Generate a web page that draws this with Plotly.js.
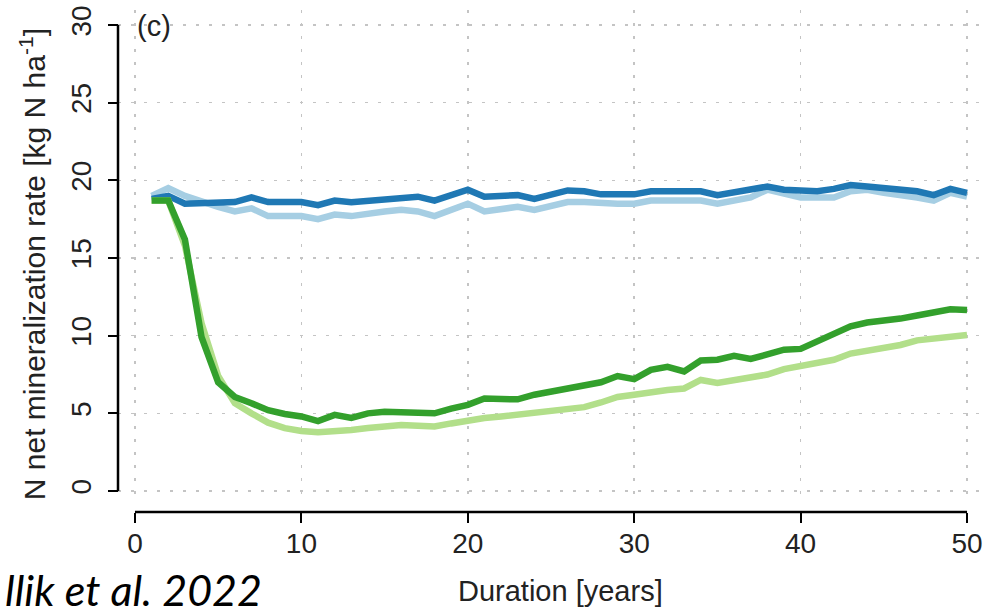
<!DOCTYPE html>
<html>
<head>
<meta charset="utf-8">
<script src="https://cdn.plot.ly/plotly-3.0.1.min.js"></script>
<style>
html,body{margin:0;padding:0;background:#fff;}
#chart{width:989px;height:607px;}
</style>
</head>
<body>
<div id="chart"></div>
<script>
// Duration [years]
const years = [1,2,3,4,5,6,7,8,9,10,11,12,13,14,15,16,17,18,19,20,21,22,23,24,25,26,27,28,29,30,31,32,33,34,35,36,37,38,39,40,41,42,43,44,45,46,47,48,49,50];

// N net mineralization rate [kg N ha-1]
const darkBlue = [18.8,19.0,18.5,18.5,18.5,18.6,18.9,18.6,18.6,18.6,18.4,18.7,18.6,18.7,18.8,18.9,18.95,18.7,19.0,19.4,18.95,19.0,19.05,18.8,19.1,19.35,19.3,19.1,19.1,19.1,19.3,19.3,19.2,19.3,19.05,19.2,19.4,19.6,19.4,19.3,19.3,19.45,19.7,19.6,19.5,19.4,19.3,19.05,19.45,19.2];
const lightBlue = [19.0,19.5,19.0,18.6,18.3,18.0,18.2,17.7,17.7,17.7,17.5,17.8,17.7,17.9,18.0,18.1,18.0,17.7,18.1,18.5,18.0,18.2,18.3,18.1,18.4,18.6,18.6,18.5,18.5,18.5,18.7,18.7,18.7,18.7,18.5,18.7,18.9,19.4,19.1,18.9,18.9,18.9,19.3,19.4,19.2,19.1,18.9,18.7,19.2,18.95];
const darkGreen = [18.7,18.7,16.2,9.9,7.0,6.05,5.65,5.2,4.96,4.8,4.5,4.9,4.7,5.0,5.1,5.1,5.05,5.0,5.3,5.55,5.95,5.95,5.9,6.2,6.4,6.55,6.7,7.0,7.4,7.2,7.8,8.0,7.7,8.4,8.45,8.7,8.5,8.8,9.1,9.15,9.6,10.1,10.6,10.85,10.95,11.1,11.3,11.45,11.7,11.65];
const lightGreen = [18.7,18.7,15.8,10.8,7.4,5.65,5.0,4.4,4.05,3.86,3.78,3.82,3.93,4.05,4.2,4.25,4.2,4.15,4.35,4.55,4.7,4.8,4.9,5.0,5.2,5.3,5.4,5.7,6.05,6.2,6.4,6.5,6.6,7.15,6.95,7.1,7.25,7.5,7.85,8.05,8.2,8.45,8.85,9.0,9.2,9.4,9.7,9.85,10.0,10.05];

const xTicks = [0,10,20,30,40,50];
const yTicks = [0,5,10,15,20,25,30];

const FONT = '"Liberation Sans", Arial, Helvetica, sans-serif';

function line(y, color) {
  return {x: years, y: y, type: 'scatter', mode: 'lines',
          line: {color: color, width: 6.5, shape: 'linear'}, hoverinfo: 'skip'};
}

const data = [
  line(lightBlue, '#a6cee3'),
  line(darkBlue, '#1f78b4'),
  line(lightGreen, '#b2df8a'),
  line(darkGreen, '#33a02c')
];

const layout = {
  width: 989, height: 607,
  margin: {l: 118, r: 0, t: 10, b: 95, pad: 0},
  paper_bgcolor: '#ffffff', plot_bgcolor: '#ffffff',
  showlegend: false,
  font: {family: FONT, size: 28, color: '#222'},
  xaxis: {
    range: [-1.02, 51.32], domain: [0, 1],
    anchor: 'free', position: 0,
    tickvals: xTicks, ticktext: xTicks.map(String),
    ticks: 'outside', ticklen: 10, tickwidth: 2, tickcolor: '#000',
    ticklabelstandoff: -4,
    showline: false, zeroline: false,
    showgrid: true, gridcolor: '#c4c4c4', gridwidth: 1.5, griddash: '3px,10px',
    tickfont: {family: FONT, size: 28, color: '#222'}
  },
  yaxis: {
    range: [-0.58, 30.97], domain: [0.0239, 1],
    anchor: 'free', position: 0,
    tickvals: yTicks, ticktext: yTicks.map(String),
    tickangle: -90,
    ticks: 'outside', ticklen: 10, tickwidth: 2, tickcolor: '#000',
    ticklabelstandoff: 6,
    showline: false, zeroline: false,
    showgrid: true, gridcolor: '#c4c4c4', gridwidth: 1.5, griddash: '3px,10px',
    tickfont: {family: FONT, size: 28, color: '#222'}
  },
  shapes: [
    {type: 'line', xref: 'x', yref: 'paper', x0: 0, x1: 50, y0: 0, y1: 0,
     line: {color: '#000', width: 2.5}},
    {type: 'line', xref: 'paper', yref: 'y', x0: 0, x1: 0, y0: 0, y1: 30,
     line: {color: '#000', width: 2.5}}
  ],
  annotations: [
    {text: '(c)', xref: 'x', yref: 'y', x: 0, y: 29.95, xanchor: 'left', yanchor: 'middle',
     showarrow: false, font: {family: FONT, size: 29, color: '#222'}},
    {text: 'Duration [years]', xref: 'paper', yref: 'paper', x: 0.5075, y: -0.157,
     xanchor: 'center', yanchor: 'middle', showarrow: false,
     font: {family: FONT, size: 29, color: '#222'}},
    {text: 'N net mineralization rate [kg N ha<sup>-1</sup>]', xref: 'paper', yref: 'y',
     x: -0.0976, y: 14.6, xanchor: 'center', yanchor: 'middle', textangle: -90,
     showarrow: false, font: {family: FONT, size: 30, color: '#222'}},
    {text: '<i>llik et al. 2022</i>', xref: 'paper', yref: 'paper', x: -0.1325, y: -0.154,
     xanchor: 'left', yanchor: 'middle', showarrow: false,
     font: {family: 'Lato, "Open Sans", sans-serif', size: 43, color: '#000'}}
  ]
};

Plotly.newPlot('chart', data, layout, {displayModeBar: false, staticPlot: true});
</script>
</body>
</html>
